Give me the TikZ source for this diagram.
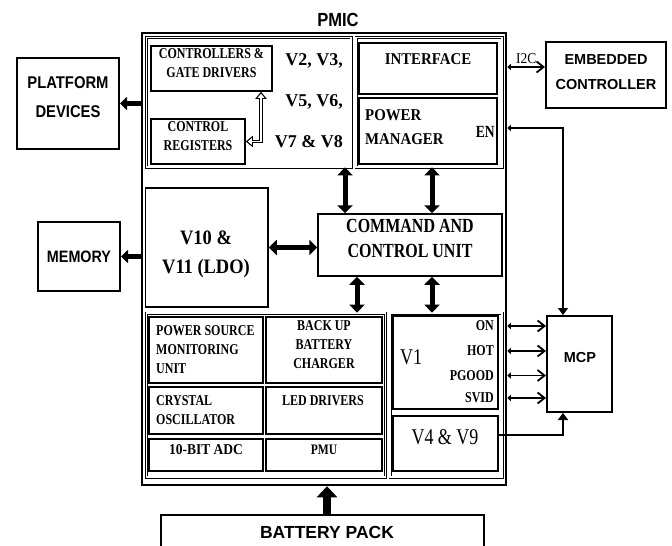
\documentclass[tikz,border=0pt]{standalone}
\usepackage{fontspec}
\setmainfont{Liberation Serif}
\newfontfamily\tallfont[FakeStretch=0.8]{Liberation Serif}
\newfontfamily\midfont[FakeStretch=0.9]{Liberation Serif}
\newfontfamily\arialfont{Liberation Sans}
\newfontfamily\arialtall[FakeStretch=0.87]{Liberation Sans}
\usetikzlibrary{arrows.meta,fit,positioning}

\begin{document}
\begin{tikzpicture}[x=1pt,y=-1pt,
        box/.style={draw,line width=1.5pt,inner sep=0pt},
        grp/.style={draw,double,double distance=1.6pt,line width=0.7pt,inner sep=0pt},
        extbox/.style={draw,line width=2pt,inner sep=0pt},
        exttext/.style={inner sep=0pt,align=center,font=\arialtall\bfseries\fontsize{17}{29}\selectfont},
        txt/.style={inner sep=0pt,align=center,font=\tallfont\bfseries\fontsize{15}{19}\selectfont},
        fat/.style={line width=5.5pt,-{Triangle[length=7pt,width=13pt]}},
        fatboth/.style={line width=5pt,{Triangle[length=8pt,width=15pt]}-{Triangle[length=8pt,width=15pt]}},
        fatup/.style={line width=8pt,-{Triangle[length=11pt,width=20pt]}},
        hollowout/.style={line width=3.4pt,{Triangle[length=7pt,width=11pt]}-{Triangle[length=7pt,width=11pt]}},
        hollowin/.style={white,line width=1.6pt,shorten <=2pt,shorten >=2pt,{Triangle[length=4pt,width=6.5pt]}-{Triangle[length=4pt,width=6.5pt]}},
        sig/.style={line width=1.8pt,{Triangle[length=3.5pt,width=6pt]}-{Straight Barb[length=7pt,width=11pt]}},
        sigdown/.style={line width=1.8pt,{Triangle[length=3.5pt,width=6pt]}-{Triangle[length=7pt,width=10pt]}},
        sigup/.style={line width=1.8pt,-{Triangle[length=7pt,width=10pt]}}]
    \useasboundingbox (0,0) rectangle (672,546);
    \clip (0,0) rectangle (672,546);
    % PMIC with its four groups
    \node[draw,line width=2.5pt,inner sep=0pt,fit={(142,33) (506,485)}] (pmic) {};
    \node[inner sep=0pt,font=\arialtall\bfseries\fontsize{19}{20}\selectfont] (pmictitle) at (338,20) {PMIC};
    \node[grp,fit={(146.5,37.5) (351,167)}] (grpA) {};
    \node[grp,fit={(356,37.5) (502,167)}] (grpB) {};
    \node[grp,fit={(146.5,313) (385.5,477)}] (grpC) {};
    \node[grp,fit={(390,313) (502,477)}] (grpD) {};
    \begin{scope}
        \node[box,txt,fit={(151,46) (272,91)}] (ctrl) {CONTROLLERS \&\\GATE DRIVERS};
        \node[box,txt,fit={(151,119) (245,164)}] (regs) {CONTROL\\REGISTERS};
        \node[txt,align=right,anchor=east,font=\bfseries\fontsize{18}{41}\selectfont] (vtwo) at (343,101) {V2, V3,\\V5, V6,\\V7 \& V8};
        \draw[hollowout] (ctrl.south -| 261,0) |- (regs.east);
        \draw[hollowin] (ctrl.south -| 261,0) |- (regs.east);
    \end{scope}
    \begin{scope}
        \node[box,fit={(359,43) (497,94)}] (iface) {};
        \node[txt,font=\midfont\bfseries\fontsize{16.5}{18}\selectfont] (ifacetext) at (428,59) {INTERFACE};
        \node[box,fit={(359,98) (497,164)}] (pman) {};
        \node[txt,align=left,anchor=west,font=\midfont\bfseries\fontsize{16.5}{24}\selectfont] (pmantext) at (365,127) {POWER\\MANAGER};
        \node[txt,anchor=east,font=\tallfont\bfseries\fontsize{17}{18}\selectfont] (entext) at (495,132) {EN};
    \end{scope}
    \node[box,fit={(145.5,188) (268,307)}] (ldo) {};
    \node[txt,font=\midfont\bfseries\fontsize{20.5}{29}\selectfont] (ldotext) at (206,254) {V10 \&\\V11 (LDO)};
    \node[box,txt,font=\tallfont\bfseries\fontsize{20}{25}\selectfont,fit={(318,214) (502,276)}] (cmd) {COMMAND AND\\CONTROL UNIT};
    \begin{scope}
        \node[box,fit={(149,317) (263,383)}] (psmu) {};
        \node[txt,align=left,anchor=west] (psmutext) at (156,350) {POWER SOURCE\\MONITORING\\UNIT};
        \node[box,txt,fit={(266,317) (382,383)}] (bbc) {BACK UP\\BATTERY\\CHARGER};
        \node[box,fit={(149,387) (263,434)}] (xtal) {};
        \node[txt,align=left,anchor=west] (xtaltext) at (156,410.5) {CRYSTAL\\OSCILLATOR};
        \node[box,fit={(266,387) (382,434)}] (led) {};
        \node[txt] (ledtext) at (323,401) {LED DRIVERS};
        \node[box,txt,font=\midfont\bfseries\fontsize{15}{17}\selectfont,fit={(149,439) (263,471)}] (adc) {10-BIT ADC};
        \node[box,txt,font=\tallfont\bfseries\fontsize{14.5}{16}\selectfont,fit={(266,439) (382,471)}] (pmu) {PMU};
    \end{scope}
    \begin{scope}
        \node[box,fit={(393,316) (498,409)}] (vone) {};
        \node[inner sep=0pt,anchor=west,font=\tallfont\fontsize{22.5}{24}\selectfont] (vonetext) at (400,357) {V1};
        \node[txt,anchor=east] (lon) at (494,326) {ON};
        \node[txt,anchor=east] (lhot) at (494,351) {HOT};
        \node[txt,anchor=east] (lpgood) at (494,375.5) {PGOOD};
        \node[txt,anchor=east] (lsvid) at (494,398) {SVID};
        \node[box,fit={(393,416) (498,471)}] (vfour) {};
        \node[inner sep=0pt,font=\tallfont\fontsize{22.5}{24}\selectfont] (vfourtext) at (445,437) {V4 \& V9};
    \end{scope}
    % outside blocks
    \node[extbox,fit={(17,58) (119,149)}] (plat) {};
    \node[exttext] (plattext) at (68,97.5) {PLATFORM\\DEVICES};
    \node[extbox,fit={(38,222) (120,291)}] (mem) {};
    \node[exttext,font=\arialtall\bfseries\fontsize{16.5}{18}\selectfont] (memtext) at (79,257) {MEMORY};
    \node[extbox,fit={(546,42) (666,108)}] (emb) {};
    \node[exttext,font=\arialfont\bfseries\fontsize{14.5}{25}\selectfont] (embtext) at (606,72.5) {EMBEDDED\\CONTROLLER};
    \node[extbox,fit={(547,316) (612,412)}] (mcp) {};
    \node[exttext,font=\arialfont\bfseries\fontsize{14.5}{16}\selectfont] (mcptext) at (580,358) {MCP};
    \node[extbox,fit={(161,515) (484,575)}] (batt) {};
    \node[exttext,font=\arialfont\bfseries\fontsize{17.5}{20}\selectfont] (batttext) at (327,532) {BATTERY PACK};
    % connections
    \draw[fat] (pmic.west |- plat.east) -- (plat.east);
    \draw[fat] (pmic.west |- mem.east) -- (mem.east);
    \draw[fatboth] (ldo.east) -- (cmd.west |- ldo.east);
    \draw[fatboth] (grpA.south -| 345,0) -- (cmd.north -| 345,0);
    \draw[fatboth] (grpB.south -| 432,0) -- (cmd.north -| 432,0);
    \draw[fatboth] (cmd.south -| 357,0) -- (grpC.north -| 357,0);
    \draw[fatboth] (cmd.south -| 432,0) -- (grpD.north -| 432,0);
    \draw[fatup] (batt.north -| 327,0) -- (pmic.south -| 327,0);
    \draw[sig] (pmic.east |- 0,67) -- (emb.west |- 0,67) node[midway,above=2pt,inner sep=0pt,font=\midfont\fontsize{15}{16}\selectfont] (i2c) {I2C};
    \draw[sigdown] (pmic.east |- 0,128) -| (mcp.north -| 563,0);
    \foreach \sg in {lon,lhot,lpgood,lsvid}
        \draw[sig] (pmic.east |- \sg) -- (mcp.west |- \sg);
    \draw[sigup] (vfour.east |- 0,435) -| (mcp.south -| 563,0);
\end{tikzpicture}
\end{document}
